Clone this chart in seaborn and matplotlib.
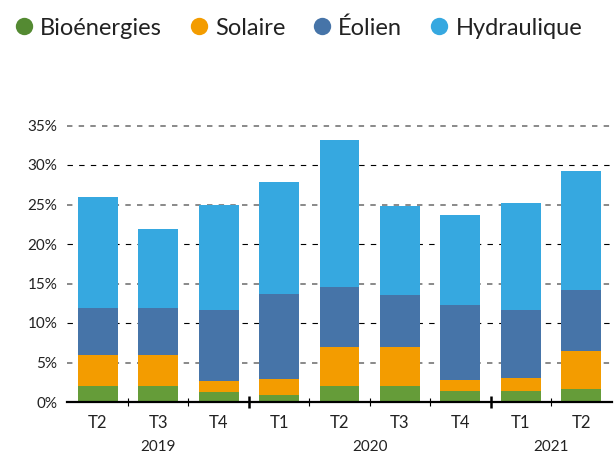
import numpy as np
import pandas as pd
import matplotlib
matplotlib.use("Agg")
import matplotlib.pyplot as plt
import matplotlib.transforms as mtransforms
from matplotlib.lines import Line2D
import seaborn as sns

# ---- data ----
quarters = ["T2", "T3", "T4", "T1", "T2", "T3", "T4", "T1", "T2"]
years = ["2019", "2019", "2019", "2020", "2020", "2020", "2020", "2021", "2021"]
series = ["Bioénergies", "Solaire", "Éolien", "Hydraulique"]
bio = [2.0, 2.0, 1.3, 0.9, 2.0, 2.0, 1.4, 1.4, 1.7]
solaire = [4.0, 4.0, 1.4, 2.05, 5.0, 4.9, 1.4, 1.7, 4.7]
eolien = [5.9, 5.9, 9.0, 10.75, 7.6, 6.6, 9.5, 8.5, 7.8]
hydro = [14.1, 10.0, 13.3, 14.1, 18.6, 11.3, 11.4, 13.6, 15.0]
yticks = [0, 5, 10, 15, 20, 25, 30, 35]
year_labels = ["2019", "2020", "2021"]

colors = ["#659c39", "#f39c00", "#4674a8", "#36a8e0"]
legend_colors = ["#548a32", "#f39c00", "#4674a8", "#36a8e0"]

sns.set_theme(style="white")
plt.rcParams["font.family"] = ["Lato", "DejaVu Sans"]
plt.rcParams["lines.scale_dashes"] = False
plt.rcParams["text.color"] = "#222222"

fig = plt.figure(figsize=(6.16, 4.55), dpi=100)
ax = fig.add_axes([67 / 616, 53 / 455, 545 / 616, 36 * 7.9 / 455])

keys = [f"{q} {y}" for q, y in zip(quarters, years)]
df = pd.DataFrame({"periode": keys, series[0]: bio, series[1]: solaire,
                   series[2]: eolien, series[3]: hydro})
cum = df[series].cumsum(axis=1)

# stacked bars drawn as layered cumulative totals
for i in reversed(range(len(series))):
    sns.barplot(data=df.assign(val=cum[series[i]]), x="periode", y="val",
                order=keys, color=colors[i], saturation=1, width=0.66,
                linewidth=0, errorbar=None, ax=ax, zorder=2)

ax.set_xlim(-0.51, len(keys) - 0.49)
ax.set_ylim(0, 36)
ax.set_xlabel("")
ax.set_ylabel("")

# grid lines (alternating styles)
for v in yticks[1:]:
    if v % 10 == 5:
        ax.axhline(v, color="#808080", lw=1.3, ls=(0, (3.9, 4.5)), zorder=0.5)
    else:
        ax.axhline(v, color="black", lw=0.8, ls=(0, (3.9, 4.5)), zorder=0.5)

for s in ["top", "right", "left"]:
    ax.spines[s].set_visible(False)
ax.spines["bottom"].set_color("black")
ax.spines["bottom"].set_linewidth(1.6)
ax.spines["bottom"].set_zorder(3)

ax.set_yticks(yticks)
ax.set_yticklabels([f"{v}%" for v in yticks])
ax.tick_params(axis="y", length=0, pad=7, labelsize=11, labelcolor="#222222", left=False)

ax.set_xticks(range(len(keys)))
ax.set_xticklabels(quarters)
ax.tick_params(axis="x", which="major", length=0, pad=9, labelsize=12,
               labelcolor="#222222", bottom=True)
ax.set_xticks([0.5, 1.5, 3.5, 4.5, 5.5, 7.5], minor=True)
ax.tick_params(axis="x", which="minor", direction="inout", length=6, width=0.8,
               color="black", bottom=True)

sec = ax.secondary_xaxis("bottom")
sec.set_xticks([2.5, 6.5])
sec.tick_params(axis="x", direction="inout", length=9, width=1.8, color="black",
                labelbottom=False, bottom=True)
for s in sec.spines.values():
    s.set_visible(False)

# year labels centred under their quarters
trans = mtransforms.blended_transform_factory(ax.transData, ax.transAxes)
for yl in year_labels:
    idx = [i for i, y in enumerate(years) if y == yl]
    ax.text(np.mean(idx), -0.158, yl, transform=trans, ha="center", va="center",
            fontsize=11, color="#222222")

handles = [Line2D([], [], marker="o", ls="", markersize=12.5, markerfacecolor=c,
                  markeredgewidth=0) for c in legend_colors]
fig.legend(handles, series, loc="center left", bbox_to_anchor=(15 / 616, 1 - 28 / 455),
           ncol=4, frameon=False, fontsize=17, handletextpad=0.3, columnspacing=1.2,
           handlelength=0.75, borderaxespad=0, borderpad=0)

fig.savefig("out.png", dpi=100)
